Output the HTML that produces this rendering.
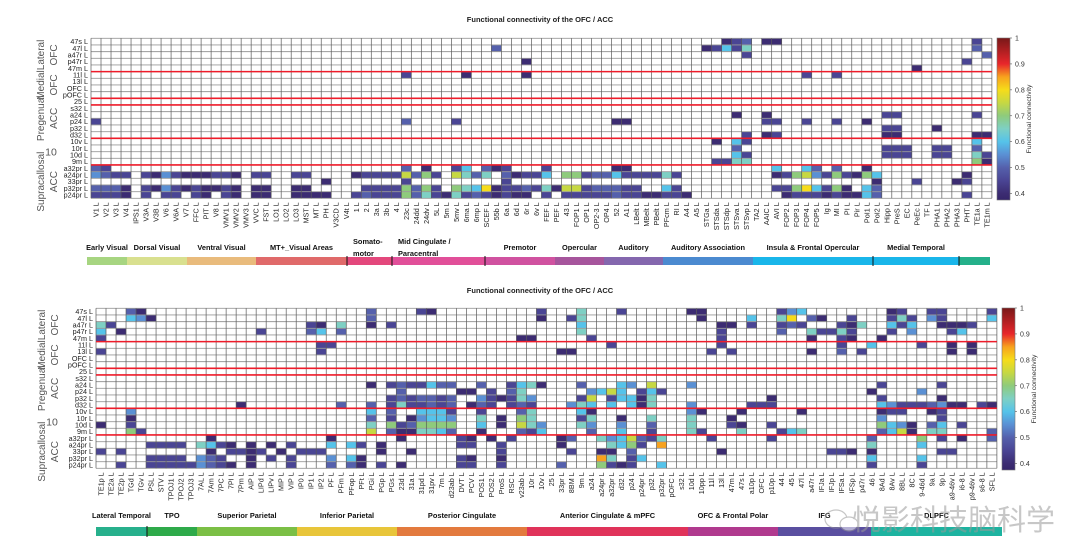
<!DOCTYPE html>
<html><head><meta charset="utf-8">
<style>
html,body{margin:0;padding:0;background:#fff;}
svg{display:block;font-family:"Liberation Sans","Noto Sans CJK SC",sans-serif;}
</style></head>
<body>
<svg id="chart" width="1066" height="542" viewBox="0 0 1066 542" xmlns="http://www.w3.org/2000/svg">
<rect width="1066" height="542" fill="#fff"/>
<text x="540" y="22" font-size="7.5" font-weight="bold" text-anchor="middle" fill="#222">Functional connectivity of the OFC / ACC</text>
<text x="540" y="293" font-size="7.5" font-weight="bold" text-anchor="middle" fill="#222">Functional connectivity of the OFC / ACC</text>
<g id="topG"></g>
<g id="botG"></g>
<g opacity="0.55">
<ellipse cx="836" cy="519" rx="11" ry="9" fill="none" stroke="#999" stroke-width="1.2"/>
<ellipse cx="849" cy="524" rx="9" ry="7" fill="#fff" stroke="#999" stroke-width="1.2"/>
<text x="852" y="530" font-size="29" fill="#9a9a9a" font-family="'Noto Sans CJK SC','WenQuanYi Zen Hei',sans-serif">悦影科技脑科学</text>
</g>
</svg>
<script>
// ---------- data ----------
const rowLabels = ["47s","47l","a47r","p47r","47m","11l","13l","OFC","pOFC","25","s32","a24","p24","p32","d32","10v","10r","10d","9m","a32pr","a24pr","33pr","p32pr","p24pr"];
const topCategories = ["V1","V2","V3","V4","IPS1","V3A","V3B","V6","V6A","V7","FFC","PIT","V8","VMV1","VMV2","VMV3","VVC","FST","LO1","LO2","LO3","MST","MT","PH","V3CD","V4t","1","2","3a","3b","4","23c","24dd","24dv","5L","5m","5mv","6ma","6mp","SCEF","55b","6a","6d","6r","6v","FEF","PEF","43","FOP1","OP1","OP2-3","OP4","52","A1","LBelt","MBelt","PBelt","PFcm","RI","A4","A5","STGa","STSda","STSdp","STSva","STSvp","TA2","AAIC","AVI","FOP2","FOP3","FOP4","FOP5","Ig","MI","PI","Pir","PoI1","PoI2","Hipp","PreS","EC","PeEc","TF","PHA1","PHA2","PHA3","PHT","TE1a","TE1m"];
const botCategories = ["TE1p","TE2a","TE2p","TGd","TGv","PSL","STV","TPOJ1","TPOJ2","TPOJ3","7AL","7Am","7PC","7PI","7Pm","AIP","LIPd","LIPv","MIP","VIP","IP0","IP1","IP2","PF","PFm","PFop","PFt","PGi","PGp","PGs","23d","31a","31pd","31pv","7m","d23ab","DVT","PCV","POS1","POS2","ProS","RSC","v23ab","10r","10v","25","33pr","8BM","9m","a24","a24pr","a32pr","d32","p24","p24pr","p32","p32pr","pOFC","s32","10d","10pp","11l","13l","47m","47s","a10p","OFC","p10p","44","45","47l","a47r","IFJa","IFJp","IFSa","IFSp","p47r","46","8Ad","8Av","8BL","8C","9-46d","9a","9p","a9-46v","i6-8","p9-46v","s6-8","SFL"];
// value codes: '.' none, 1=0.40 2=0.45 3=0.50 4=0.55 5=0.60 6=0.65 7=0.70 8=0.75 9=0.80 a=0.85
const codeValues = {"1":0.40,"2":0.45,"3":0.50,"4":0.55,"5":0.60,"6":0.65,"7":0.70,"8":0.75,"9":0.80,"a":0.85};
const topValues = [
".......... .......... .......... .......... .......... .......... ...123.11. .......... ........2.",
".......... .......... .......... .......... 3......... .......... .12526.... .......... ........3.",
".......... .......... .......... .......... .......... .......... .....2.... .......... .........3",
".......... .......... .......... .......... ...1...... .......... .......... .......... .......2..",
".......... .......... .......... .......... .......... .......... .......... .......... ..1.......",
".......... .......... .......... .2.....1.. ...1...... .......... .......... .2..2..... ..........",
"", "", "", "", "",
".......... .......... .......... .......... .......... .......... ....1..1.. .........2 2.......2.",
"2......... .......... .......... .3....2... .......... ..11...... .......22. .2..2..1.. ..........",
".......... .......... .......... .......... .......... .......... .......... .........2 2...1.....",
".......... .......... .......... .......... .......... .......... .....2.12. .........1 1.......11",
".......... .......... .......... .......... .......... .......... ..1.52.... .......... ........5.",
".......... .......... .......... .......... .......... .......... ....3..... .........2 22..22..3.",
".......... .......... .......... .......... .......... .......... ....52.... .........2 22..22..62",
".......... .......... .......... .......... .......... .......... ..2266.... .......... ........71",
"32........ .......... .......... .3.1..25.3 12...2.... ..11...... ........5. .53.3..1.. ..........",
"4322.21421 11221.22.. 22....1222 28372.8636 .31225.772 335222262. ........12 784272175. .......1..",
".......... .......... ...1...... .2........ .2........ .......... .......... ........1. ..2...12..",
"3331.21421 21121.11.. 11.....222 27372.7659 1223261882 33322..52. ........22 795271.53. ..........",
"2221.2.22. 21.21.11.. 1111..2322 2736216232 1211.2.222 2232211221 .........1 222121153. .......2.."
];
const botValues = [
"...31..... .......... .......3.. ..21...... ....2...6. ..2......1 1.......24 5........1 2..22....2",
"...541.... .......... .......3.. .......... ....1..26. .......... 1....5..69 .31..2...2 62.42....5",
"62........ .......... .21.6..1.2 .......... ........5. .......... ..11.2..23 2...216..5 25..1112..",
"5.1....... ......2... .35.3..... .......... ........6. .......... ..2.....3. .62262...2 .4...25...",
"2......... .......... .......... .......... ..11.....2 .......... ..2....... .1..21..1. ..........",
".......... .......... ..22...... .......... .......... .2........ ..2....... ....2..5.. ..2..1.1..",
"2......... .......... ..2....... .......... ......11.. .......... .2.2...... .1..3.2... .....1.1..",
"", "", "", "",
".......... .......... .......1.2 322533..3. .2561...3. ..54.8...4 .......... ........2. ....2.....",
".......... .......... .......... 3.....11.2 .36......4 585.252... .......... .......1.. ..4.......",
".......... .......... .........2 323323..42 1264....28 .25516.... .......1.. ........2. ....1.....",
".......... ....1..... ....3..3.2 622323.132 .232...465 .5.516...4 .....222.. ........54 2223411.21",
"...4...... .......... .......5.3 ..5552..2. ..36....51 .........4 1...1..... 1.......12 2..12.....",
"...1...... .......... .......3.2 .14554..6. 1.76....26 ..1..6...6 ...1...... ........4. ....2.....",
"1..2...... .......... .......6.7 237777..5. 1.864...64 ..4..3...6 ...21..2.. ........75 41.35.2...",
"...72..... .......... .......8.3 116653..1. ..325....3 ..5..2...6 2...6...25 6.......35 81.66....3",
".......... .1........ ...1...... 1.....21.1 .2....13.. 6458326... .2.....2.. .......3.. ..7.2.1..3",
".....2222. 6521.1.1.2 ...5.52.1. ......22.. 2.....1... .6572.a... .......... .......6.. ..5.......",
"2.2....... .1.2212.1. 222.....1. .1........ 2......2.. 11.3...... ..1....... ...221.1.. ....22....",
".....2222. 432..1.2.2 ...4.51... ......21.. 1......... a6.25..... .......... .......5.. ..5.......",
"..2..22222 4321.1...2 ...3.31.2. 1.....22.. 2.....3... 7212..5... .......... .......2.. ..2......."
];
const colorbarTicks = [0.4,0.5,0.6,0.7,0.8,0.9,1];
const topGroups = ["Early Visual","Dorsal Visual","Ventral Visual","MT+_Visual Areas","Somato-|motor","Mid Cingulate /|Paracentral","Premotor","Opercular","Auditory","Auditory Association","Insula & Frontal Opercular","Medial Temporal",""];
const topGroupEnds = [127,187,256,347,392,485,555,604,663,753,873,959,990];
const botGroups = ["Lateral Temporal","TPO","Superior Parietal","Inferior Parietal","Posterior Cingulate","Anterior Cingulate & mPFC","OFC & Frontal Polar","IFG","DLPFC"];
const botGroupEnds = [147,197,297,397,527,688,778,871,1002];
const rowGroups = [["Lateral","OFC"],["Medial","OFC"],["Pregenual","ACC"],["10"],["Supracallosal","ACC"]];
const rowGroupRows = [[0,5],[5,9],[9,15],[15,19],[19,24]];
const redLineRows = [5,9,10,15,19];

// ---------- helpers ----------
const NS = "http://www.w3.org/2000/svg";
function mk(parent, tag, attrs){const e=document.createElementNS(NS,tag);for(const k in attrs)e.setAttribute(k,attrs[k]);parent.appendChild(e);return e;}
const cmStops=[[0.375,"#35256a"],[0.40,"#3c2c72"],[0.45,"#4a4594"],[0.50,"#5560ac"],[0.55,"#5a90d4"],[0.60,"#55c3ea"],[0.65,"#7ed0c4"],[0.70,"#8ecb7c"],[0.75,"#c6d843"],[0.80,"#f6dc1a"],[0.85,"#f7a21e"],[0.90,"#e8262b"],[1.0,"#781818"]];
function hex(h){return [1,3,5].map(i=>parseInt(h.substr(i,2),16));}
function cmap(v){
  for(let i=0;i<cmStops.length-1;i++){const [a,ca]=cmStops[i],[b,cb]=cmStops[i+1];
    if(v<=b){const t=Math.max(0,(v-a)/(b-a));const A=hex(ca),B=hex(cb);return "rgb("+A.map((x,j)=>Math.round(x+(B[j]-x)*t)).join(",")+")";}}
  return cmStops[cmStops.length-1][1];
}
function decode(str){const s=(str||"").replace(/ /g,"");const out=[];for(let i=0;i<90;i++){const ch=s[i]||".";out.push(ch==="."?null:codeValues[ch]);}return out;}

function drawHeatmap(g, o){
  const nC=o.cats.length, nR=rowLabels.length;
  const xs=c=>o.left+c*o.cw, ys=r=>o.top+r*o.rh;
  const W=nC*o.cw, H=nR*o.rh;
  o.values.forEach((rowStr,r)=>{
    decode(rowStr).forEach((v,c)=>{
      if(v===null)return;
      const el=mk(g,"rect",{x:xs(c),y:ys(r),width:o.cw,height:o.rh,fill:cmap(v)});
      
      
    });
  });
  for(let r=0;r<=nR;r++) mk(g,"line",{x1:o.left,x2:o.left+W,y1:ys(r),y2:ys(r),stroke:"#9a9a9a","stroke-width":0.9});
  for(let c=0;c<=nC;c++) mk(g,"line",{x1:xs(c),x2:xs(c),y1:o.top,y2:o.top+H,stroke:"#5a5a5a","stroke-width":0.7});
  redLineRows.forEach(r=>{const l=mk(g,"line",{x1:o.left,x2:o.left+W,y1:ys(r),y2:ys(r),stroke:"#ee1c2a","stroke-width":1.6});
    });
  rowLabels.forEach((lab,r)=>{const t=mk(g,"text",{x:o.left-3,y:ys(r)+o.rh/2+2.6,"font-size":7.2,"text-anchor":"end",fill:"#222"});t.textContent=lab+" L";
    });
  rowGroups.forEach((lines,i)=>{const [a,b]=rowGroupRows[i];const cy=(ys(a)+ys(b))/2;
    if(lines.length===1){const t=mk(g,"text",{x:o.gx+7,y:cy+4,"font-size":10.5,"text-anchor":"middle",fill:"#555"});t.textContent=lines[0];
      return;}
    lines.forEach((ln,k)=>{const x=o.gx+k*13;const t=mk(g,"text",{transform:`translate(${x},${cy}) rotate(-90)`,"font-size":10,"text-anchor":"middle",fill:"#555"});t.textContent=ln;
      });
  });
  o.cats.forEach((lab,c)=>{const t=mk(g,"text",{transform:`translate(${xs(c)+o.cw/2+2.5},${o.top+H+4}) rotate(-90)`,"font-size":7.2,"text-anchor":"end",fill:"#222"});t.textContent=lab+" L";
    });
  const cb=o.cb, vmin=0.375, vmax=1;
  const cy=v=>cb.y+cb.h*(1-(v-vmin)/(vmax-vmin));
  const defs=mk(g,"defs",{});const gid="grad"+o.id;
  const lg=mk(defs,"linearGradient",{id:gid,x1:0,y1:1,x2:0,y2:0});
  cmStops.forEach(([v,c])=>mk(lg,"stop",{offset:((v-vmin)/(vmax-vmin)),"stop-color":c}));
  const bar=mk(g,"rect",{x:cb.x,y:cb.y,width:cb.w,height:cb.h,fill:`url(#${gid})`,stroke:"#777","stroke-width":0.6});
  
  colorbarTicks.forEach(v=>{mk(g,"line",{x1:cb.x+cb.w,x2:cb.x+cb.w+2,y1:cy(v),y2:cy(v),stroke:"#555","stroke-width":0.6});
    const t=mk(g,"text",{x:cb.x+cb.w+5,y:cy(v)+2.5,"font-size":7,fill:"#333"});t.textContent=String(v);
    });
  const ct=mk(g,"text",{transform:`translate(${cb.x+cb.w+21},${cb.y+cb.h/2}) rotate(-90)`,"font-size":6.8,"text-anchor":"middle",fill:"#333"});
  ct.textContent="Functional connectivity";
  let prev=o.catStart;
  o.groups.forEach((name,i)=>{const end=o.groupEnds[i];
    const r=mk(g,"rect",{x:prev,y:o.barY,width:end-prev,height:o.barH,fill:o.groupColors[i]});
    
    const lines=name.split("|");
    if(name){lines.forEach((ln,k)=>{const isLeft=lines.length>1;
      const t=mk(g,"text",{x:isLeft?prev+6:(prev+end)/2,y:o.labY-(lines.length-1)*6+k*12,"font-size":7.4,"font-weight":"bold","text-anchor":isLeft?"start":"middle",fill:"#111"});
      t.textContent=ln;});}
    prev=end;});
  (o.separators||[]).forEach(x=>mk(g,"line",{x1:x,x2:x,y1:o.barY-1,y2:o.barY+o.barH+1,stroke:"#111","stroke-width":1}));
}

drawHeatmap(document.getElementById("topG"),{id:"t",cats:topCategories,values:topValues,left:91,top:38.3,cw:10.01,rh:6.667,gx:44,
  cb:{x:997,y:38,w:13,h:162},catStart:87,barY:257,barH:8,labY:250,groups:topGroups,groupEnds:topGroupEnds,
  groupColors:["#a7d581","#d9e08f","#e9bb7c","#e06a6a","#e3487c","#e14f99","#d052a0","#a6559c","#8467ae","#4b8ad0","#19b6ea","#19b6ea","#24b08a"],
  separators:[347,392,485,873,959]});
drawHeatmap(document.getElementById("botG"),{id:"b",cats:botCategories,values:botValues,left:96,top:308.3,cw:10.01,rh:6.667,gx:45,
  cb:{x:1002,y:308,w:13,h:162},catStart:96,barY:527,barH:9,labY:518,groups:botGroups,groupEnds:botGroupEnds,
  groupColors:["#27b08c","#2eaa4a","#7bbf45","#e8c53a","#e37a3e","#e0335a","#b03a8e","#5a4fa0","#1db3a0"],
  separators:[147]});
</script>
</body></html>
